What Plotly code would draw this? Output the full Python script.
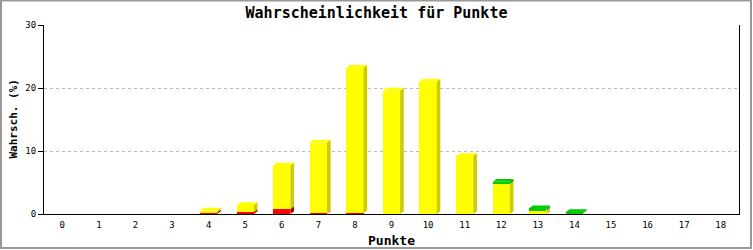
import plotly.graph_objects as go

categories = list(range(19))
tick_labels = [str(c) for c in categories]
red_vals = [0, 0, 0, 0, 0.25, 0.3, 0.8, 0.15, 0.1, 0, 0, 0, 0, 0, 0, 0, 0, 0, 0]
yellow_vals = [0, 0, 0, 0, 0.3, 1.1, 6.9, 11.2, 23.1, 19.6, 21.0, 9.2, 4.8, 0.6, 0.1, 0, 0, 0, 0]
green_vals = [0, 0, 0, 0, 0, 0, 0, 0, 0, 0, 0, 0, 0.3, 0.3, 0.2, 0, 0, 0, 0]

series = [
    ("red", red_vals, "#ff0000", "#b00000"),
    ("yellow", yellow_vals, "#ffff00", "#cccc00"),
    ("green", green_vals, "#00cc00", "#009900"),
]

W = 0.47   # bar width in category units
DX = 0.10  # 3D depth x (data units)
DY = 0.45  # 3D depth y (data units)

fig = go.Figure()

# side faces and top faces
for si, (name, vals, front, side) in enumerate(series):
    sx, sy = [], []
    tx, ty = [], []
    for i, c in enumerate(categories):
        if vals[i] <= 0:
            continue
        base = sum(series[k][1][i] for k in range(si))
        top = base + vals[i]
        xr = c + W / 2
        xl = c - W / 2
        sx += [xr, xr + DX, xr + DX, xr, xr, None]
        sy += [base, base + DY, top + DY, top, base, None]
        if all(series[k][1][i] <= 0 for k in range(si + 1, len(series))):
            tx += [xl, xl + DX, xr + DX, xr, xl, None]
            ty += [top, top + DY, top + DY, top, top, None]
    if sx:
        fig.add_trace(go.Scatter(x=sx, y=sy, mode="lines", fill="toself",
                                 fillcolor=side, line=dict(width=0, color=side),
                                 hoverinfo="skip", showlegend=False))
    if tx:
        fig.add_trace(go.Scatter(x=tx, y=ty, mode="lines", fill="toself",
                                 fillcolor=front, line=dict(width=0, color=front),
                                 hoverinfo="skip", showlegend=False))

for name, vals, front, side in series:
    fig.add_trace(go.Bar(x=categories, y=vals, width=W, marker=dict(color=front, line=dict(width=0)),
                         name=name, showlegend=False))

font_family = "DejaVu Sans Mono, Liberation Mono, monospace"

L, R, T, B = 44, 14, 25, 36
PW, PH = 753 - L - R, 250 - T - B

fig.update_layout(
    barmode="stack",
    width=753, height=250,
    margin=dict(l=L, r=R, t=T, b=B, autoexpand=False),
    paper_bgcolor="white", plot_bgcolor="white",
    title=dict(text="<b>Wahrscheinlichkeit für Punkte</b>", x=0.5, xanchor="center",
               y=1 - 13 / 250, yanchor="middle",
               font=dict(family=font_family, size=15, color="black")),
    xaxis=dict(range=[-0.5, 18.5], tickmode="array", tickvals=categories, ticktext=tick_labels,
               showgrid=False, zeroline=False, showline=True, linecolor="black", linewidth=1,
               ticks="outside", ticklen=2, tickcolor="rgba(0,0,0,0)",
               tickfont=dict(family=font_family, size=9, color="black")),
    yaxis=dict(range=[0, 30], dtick=10, showgrid=True, griddash="dot", gridcolor="#bbbbbb",
               gridwidth=1, zeroline=False, showline=True, linecolor="black", linewidth=1,
               mirror=True, ticks="outside", ticklen=5, tickcolor="black",
               tickfont=dict(family=font_family, size=9, color="black")),
    annotations=[
        dict(text="<b>Punkte</b>", xref="paper", yref="paper", x=0.5, y=-(240 - T - PH) / PH,
             xanchor="center", yanchor="middle", showarrow=False,
             font=dict(family=font_family, size=13, color="black")),
        dict(text="<b>Wahrsch. (%)</b>", xref="paper", yref="paper", x=-(L - 13) / PW, y=0.5,
             xanchor="center", yanchor="middle", textangle=-90, showarrow=False,
             font=dict(family=font_family, size=11, color="black")),
    ],
    shapes=[dict(type="rect", xref="paper", yref="paper", x0=-(L - 1) / PW, x1=1 + (R - 2) / PW,
                 y0=-(B - 2) / PH, y1=1 + (T - 0.5) / PH, line=dict(color="#999999", width=2))],
)

fig.write_html("out.html")
